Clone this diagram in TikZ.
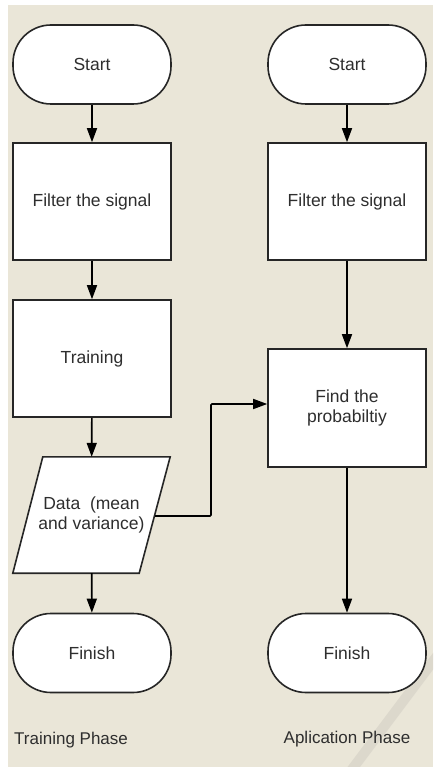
\documentclass[tikz,border=0pt]{standalone}
\usepackage{fontspec}
\setmainfont{Liberation Sans}
\usetikzlibrary{arrows.meta}
\definecolor{bgbeige}{HTML}{EAE6D8}
\definecolor{stripe}{HTML}{DCD8CC}
\definecolor{txt}{HTML}{2E2E2E}
\begin{document}
\begin{tikzpicture}[x=1pt,y=-1pt,
  every node/.style={font=\fontsize{17.5}{20.5}\selectfont, text=txt},
  box/.style={draw=black!85, fill=white, line width=1.6pt, minimum width=158pt, inner sep=0pt, align=center},
  term/.style={box, minimum height=79pt, rounded corners=38pt},
  proc/.style={box, minimum height=117pt},
  iotext/.style={minimum width=157pt, minimum height=116pt, inner sep=0pt, align=center},
  ioshape/.style={draw=black!85, fill=white, line width=1.6pt, line join=miter},
  arr/.style={draw=black, line width=1.6pt, -{Triangle[length=14pt,width=10pt]}},
  lbl/.style={font=\fontsize{17}{20}\selectfont, text=txt, inner sep=0pt}
]
\useasboundingbox (0,0) rectangle (433,767);
\fill[white] (0,0) rectangle (433,767);
\fill[bgbeige] (8,5) rectangle (433,767);
\begin{scope}
\clip (8,5) rectangle (433,767);
\draw[stripe, line width=10pt] (440,652) -- (350,772);
\end{scope}

% Training phase
\node[term] (s1) at (92,64.5) {Start};
\node[proc] (f1) at (92,201.5) {Filter the signal};
\node[proc] (t1) at (92,358.5) {Training};
\node[iotext] (d1) at (91.5,515) {};
\draw[ioshape] ([xshift=30pt]d1.north west) -- (d1.north east) -- ([xshift=-31pt]d1.south east) -- (d1.south west) -- cycle;
\node[align=center, inner sep=0pt] (d1t) at (d1.center) {Data\ \ (mean\\and variance)};
\node[term] (e1) at (92,653) {Finish};

% Application phase
\node[term] (s2) at (347,64.5) {Start};
\node[proc] (f2) at (347,201.5) {Filter the signal};
\node[box, minimum height=118pt] (p2) at (347,408) {Find the\\probabiltiy};
\node[term] (e2) at (347,653) {Finish};

\draw[arr] (s1) -- (f1);
\draw[arr] (f1) -- (t1);
\draw[arr] (t1) -- (d1);
\draw[arr] (d1) -- (e1);
\draw[arr] (s2) -- (f2);
\draw[arr] (f2) -- (p2);
\draw[arr] (p2) -- (e2);
\coordinate (dR) at (155,516);
\coordinate (jog) at (211,460);
\draw[arr, rounded corners=1pt] (dR) -| (jog) |- ([yshift=4pt]p2.west);

\node[lbl, anchor=west] (lt) at (14,740) {Training Phase};
\node[lbl] (la) at (347,739) {Aplication Phase};
\end{tikzpicture}
\end{document}
